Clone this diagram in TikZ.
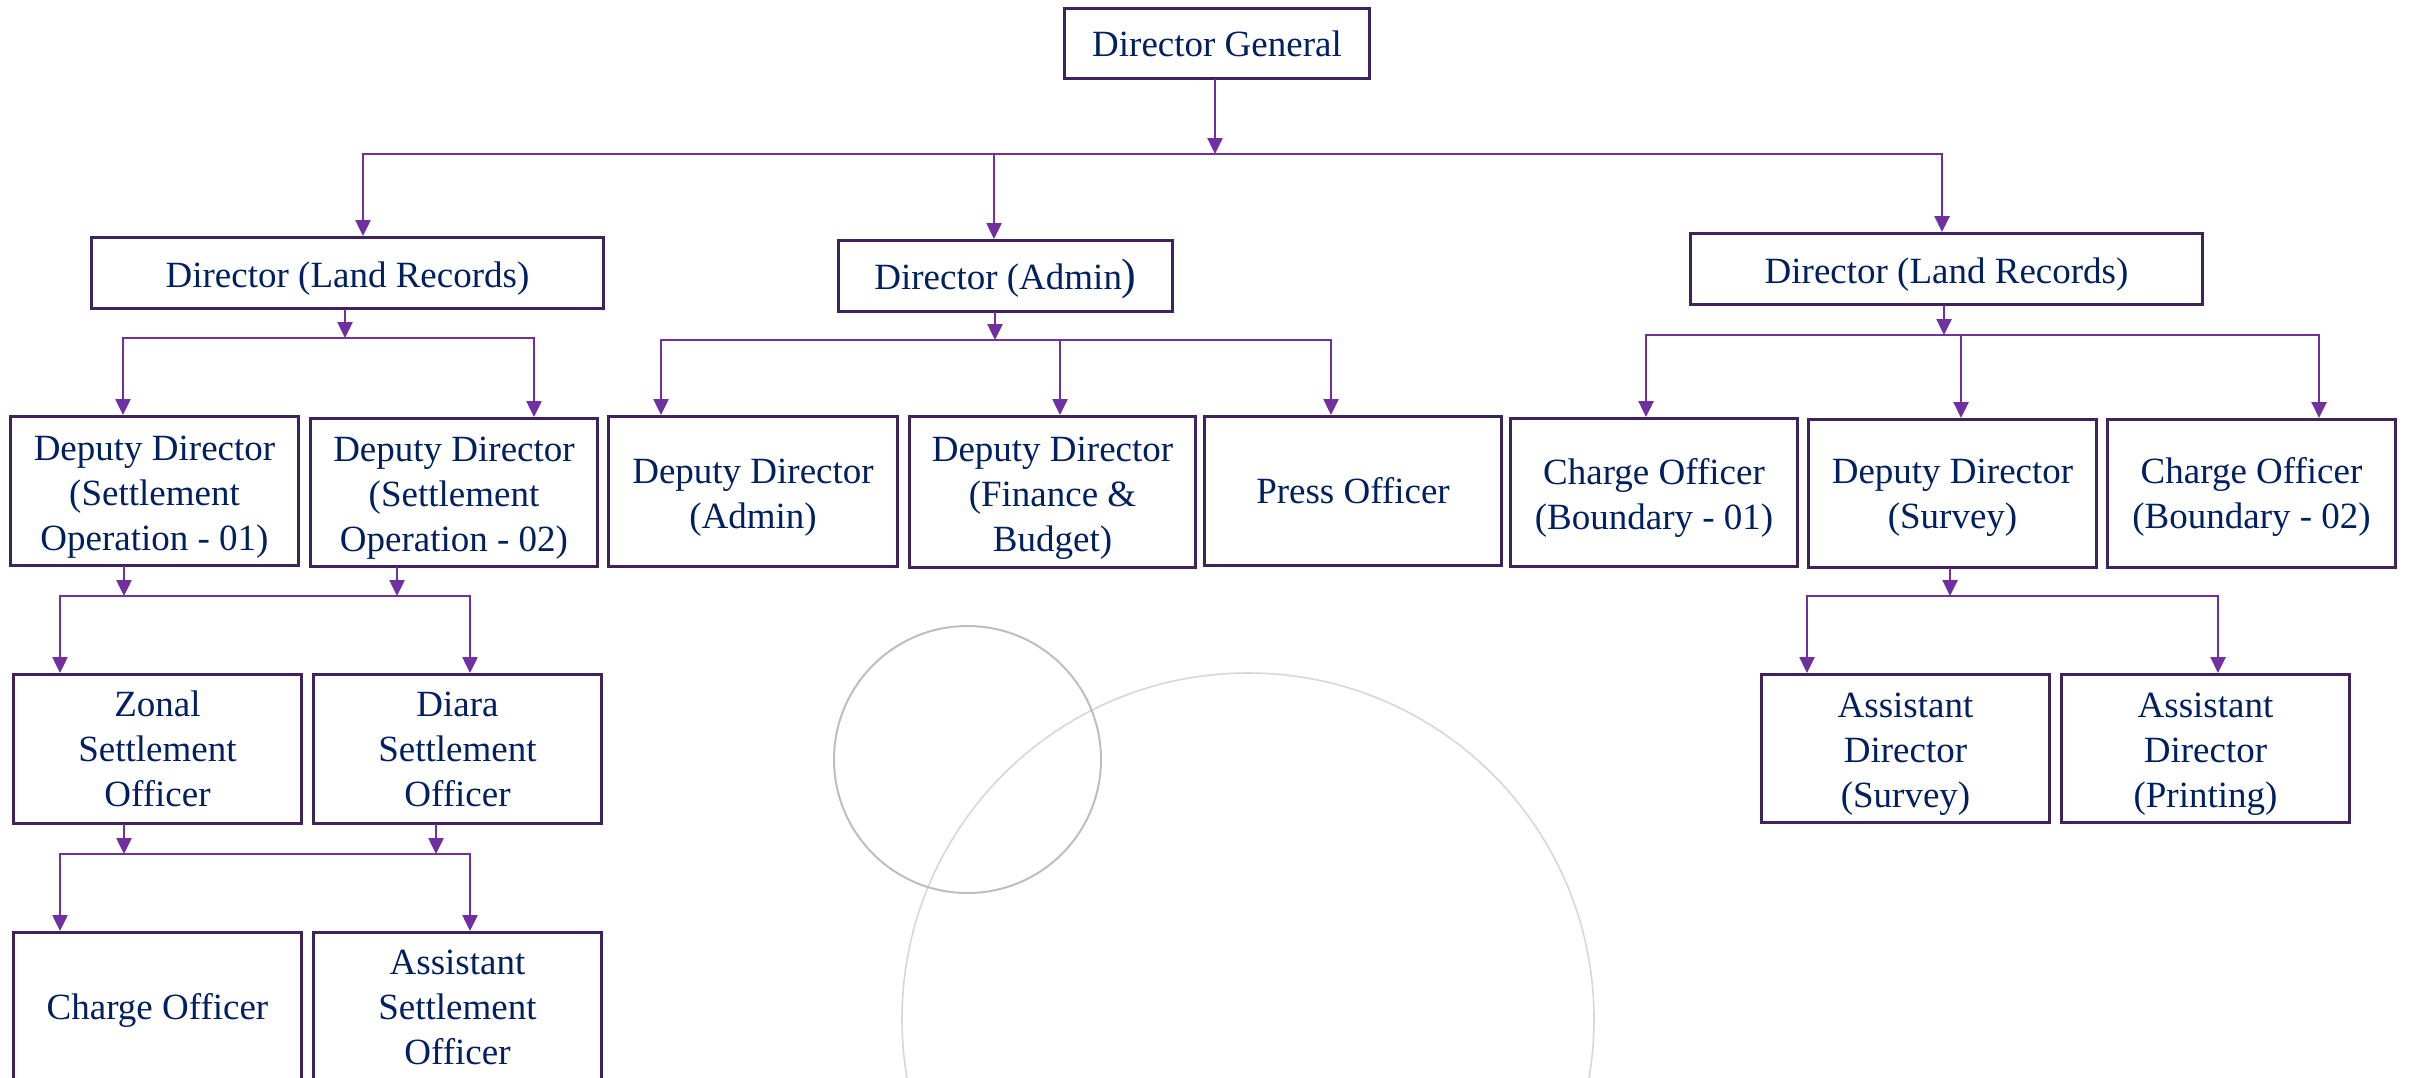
\documentclass[tikz,border=0pt]{standalone}
\usepackage{fontspec}
\setmainfont{Liberation Serif}
\usetikzlibrary{arrows.meta}
\definecolor{txtblue}{RGB}{0,32,96}
\definecolor{boxpurple}{RGB}{63,35,90}
\definecolor{linepurple}{RGB}{112,48,160}
\definecolor{ringA}{RGB}{190,190,190}
\definecolor{ringB}{RGB}{215,215,215}
\newcommand\tlift{\rule{0pt}{36pt}}
\newcommand\tliftsm{\rule{0pt}{32pt}}
\begin{document}
\begin{tikzpicture}[x=1pt,y=-1pt,
  box/.style={draw=boxpurple, line width=3pt, fill=white, anchor=north west,
    inner sep=0pt, align=center, text=txtblue, font=\fontsize{37}{45}\selectfont},
  conn/.style={draw=linepurple, line width=2.5pt, line cap=rect},
  arr/.style={conn, -{Triangle[width=15pt,length=16pt]}},
  ringsmall/.style={draw=ringA, line width=2pt},
  ringbig/.style={draw=ringB, line width=1.6pt}]
\useasboundingbox (0,0) rectangle (2415,1077);

% background rings
\draw[ringbig] (1248,1019) circle[radius=346];
\draw[ringsmall] (967.5,759.5) circle[radius=133.5];

% boxes
\node[box, minimum width=305pt, minimum height=70pt] (dg) at (1063,7) {Director General};
\node[box, minimum width=512pt, minimum height=71pt] (dlrL) at (90,236) {\tlift Director (Land Records)};
\node[box, minimum width=334pt, minimum height=71pt] (dadm) at (837,239) {\tlift Director (Admin{\fontsize{44}{45}\selectfont)}};
\node[box, minimum width=512pt, minimum height=71pt] (dlrR) at (1689,232) {\tlift Director (Land Records)};

\node[box, minimum width=288pt, minimum height=149pt] (ddso1) at (9,415) {\tlift Deputy Director\\(Settlement\\Operation - 01)};
\node[box, minimum width=287pt, minimum height=148pt] (ddso2) at (309,417) {\tlift Deputy Director\\(Settlement\\Operation - 02)};
\node[box, minimum width=289pt, minimum height=150pt] (ddadm) at (607,415) {\tlift Deputy Director\\(Admin)};
\node[box, minimum width=286pt, minimum height=151pt] (ddfin) at (908,415) {\tlift Deputy Director\\(Finance \&\\Budget)};
\node[box, minimum width=297pt, minimum height=149pt] (press) at (1203,415) {Press Officer};
\node[box, minimum width=287pt, minimum height=148pt] (cob1) at (1509,417) {\tlift Charge Officer\\(Boundary - 01)};
\node[box, minimum width=288pt, minimum height=148pt] (ddsur) at (1807,418) {\tliftsm Deputy Director\\(Survey)};
\node[box, minimum width=288pt, minimum height=148pt] (cob2) at (2106,418) {\tliftsm Charge Officer\\(Boundary - 02)};

\node[box, minimum width=288pt, minimum height=149pt] (zonal) at (12,673) {Zonal\\Settlement\\Officer};
\node[box, minimum width=288pt, minimum height=149pt] (diara) at (312,673) {Diara\\Settlement\\Officer};
\node[box, minimum width=288pt, minimum height=150pt] (charge) at (12,931) {\tliftsm Charge Officer};
\node[box, minimum width=288pt, minimum height=150pt] (aso) at (312,931) {Assistant\\Settlement\\Officer};

\node[box, minimum width=288pt, minimum height=148pt] (adsur) at (1760,673) {\tlift Assistant\\Director\\(Survey)};
\node[box, minimum width=288pt, minimum height=148pt] (adprt) at (2060,673) {\tlift Assistant\\Director\\(Printing)};

% level 1 bus
\coordinate (j0) at (1215,154);
\coordinate (j0a) at (363,154);
\coordinate (j0b) at (994,154);
\coordinate (j0c) at (1942,154);
\draw[arr] (dg.south -| j0) -- (j0);
\draw[conn] (j0a) -- (j0c);
\draw[arr] (j0a) -- (j0a |- dlrL.north);
\draw[arr] (j0b) -- (j0b |- dadm.north);
\draw[arr] (j0c) -- (j0c |- dlrR.north);

% Director (Land Records) left
\coordinate (j1) at (345,338);
\coordinate (j1a) at (123,338);
\coordinate (j1b) at (534,338);
\draw[arr] (dlrL.south -| j1) -- (j1);
\draw[conn] (j1a) -- (j1b);
\draw[arr] (j1a) -- (j1a |- ddso1.north);
\draw[arr] (j1b) -- (j1b |- ddso2.north);

% Director (Admin)
\coordinate (j2) at (995,340);
\coordinate (j2a) at (661,340);
\coordinate (j2b) at (1060,340);
\coordinate (j2c) at (1331,340);
\draw[arr] (dadm.south -| j2) -- (j2);
\draw[conn] (j2a) -- (j2c);
\draw[arr] (j2a) -- (j2a |- ddadm.north);
\draw[arr] (j2b) -- (j2b |- ddfin.north);
\draw[arr] (j2c) -- (j2c |- press.north);

% Director (Land Records) right
\coordinate (j3) at (1944,335);
\coordinate (j3a) at (1646,335);
\coordinate (j3b) at (1961,335);
\coordinate (j3c) at (2319,335);
\draw[arr] (dlrR.south -| j3) -- (j3);
\draw[conn] (j3a) -- (j3c);
\draw[arr] (j3a) -- (j3a |- cob1.north);
\draw[arr] (j3b) -- (j3b |- ddsur.north);
\draw[arr] (j3c) -- (j3c |- cob2.north);

% Settlement operations
\coordinate (j4p) at (124,596);
\coordinate (j4q) at (397,596);
\coordinate (j4a) at (60,596);
\coordinate (j4b) at (470,596);
\draw[arr] (ddso1.south -| j4p) -- (j4p);
\draw[arr] (ddso2.south -| j4q) -- (j4q);
\draw[conn] (j4a) -- (j4b);
\draw[arr] (j4a) -- (j4a |- zonal.north);
\draw[arr] (j4b) -- (j4b |- diara.north);

% Settlement officers
\coordinate (j5p) at (124,854);
\coordinate (j5q) at (436,854);
\coordinate (j5a) at (60,854);
\coordinate (j5b) at (470,854);
\draw[arr] (zonal.south -| j5p) -- (j5p);
\draw[arr] (diara.south -| j5q) -- (j5q);
\draw[conn] (j5a) -- (j5b);
\draw[arr] (j5a) -- (j5a |- charge.north);
\draw[arr] (j5b) -- (j5b |- aso.north);

% Deputy Director (Survey)
\coordinate (j6) at (1950,596);
\coordinate (j6a) at (1807,596);
\coordinate (j6b) at (2218,596);
\draw[arr] (ddsur.south -| j6) -- (j6);
\draw[conn] (j6a) -- (j6b);
\draw[arr] (j6a) -- (j6a |- adsur.north);
\draw[arr] (j6b) -- (j6b |- adprt.north);
\end{tikzpicture}
\end{document}
